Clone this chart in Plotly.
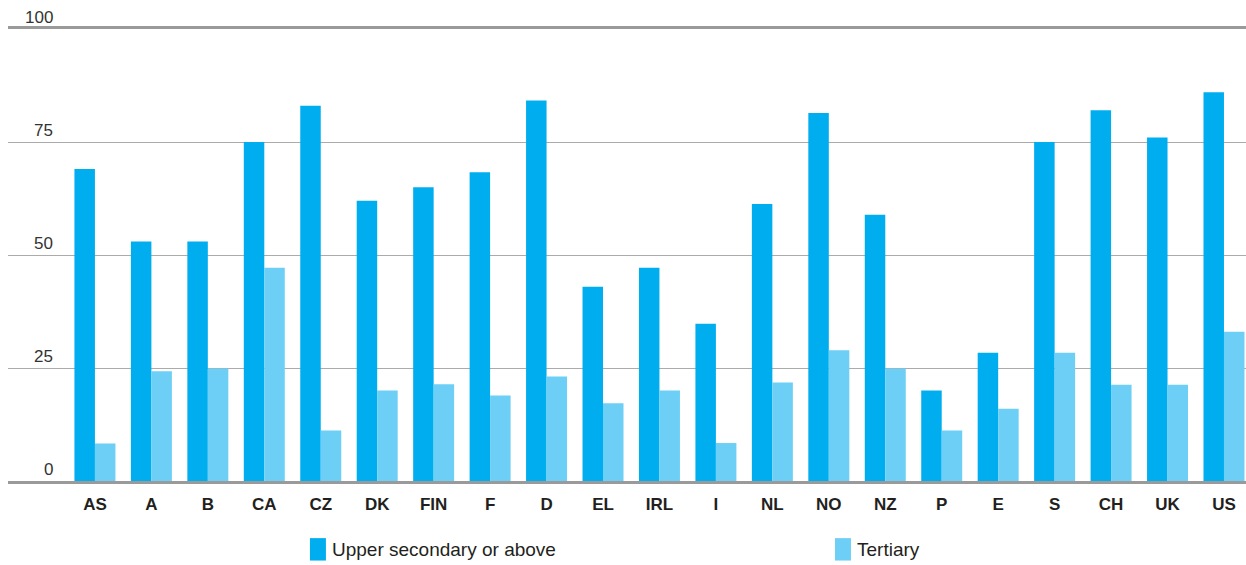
import plotly.graph_objects as go

# country codes along the x axis
countries = ["AS", "A", "B", "CA", "CZ", "DK", "FIN", "F", "D", "EL", "IRL",
             "I", "NL", "NO", "NZ", "P", "E", "S", "CH", "UK", "US"]

# share of population (%) by attainment level
upper_secondary = [69, 53, 53, 75, 83, 62, 65, 68.3, 84.2, 43, 47.2,
                   34.8, 61.3, 81.4, 58.9, 20, 28.4, 75, 82, 76, 86]
tertiary = [8.3, 24.3, 24.9, 47.2, 11.2, 20, 21.4, 18.9, 23.1, 17.2, 20,
            8.4, 21.8, 28.9, 24.9, 11.2, 16, 28.4, 21.3, 21.3, 33]

y_ticks = [0, 25, 50, 75, 100]

DARK = "#00AEEF"
LIGHT = "#6DCFF6"
FONT = "Liberation Sans, Arial, sans-serif"

fig = go.Figure()
fig.add_trace(go.Bar(x=countries, y=upper_secondary, name="Upper secondary or above",
                     marker=dict(color=DARK, line=dict(width=0))))
fig.add_trace(go.Bar(x=countries, y=tertiary, name="Tertiary",
                     marker=dict(color=LIGHT, line=dict(width=0))))

fig.update_layout(
    width=1246, height=565,
    margin=dict(l=8, r=0, t=29, b=84),
    barmode="group", bargap=0.274, bargroupgap=0,
    plot_bgcolor="white", paper_bgcolor="white",
    showlegend=False,
    font=dict(family=FONT, color="#231F20"),
)
fig.update_xaxes(
    range=[-1.54, 20.39], showgrid=False,
    showline=True, mirror=True, linecolor="#9a9a9a", linewidth=3,
    ticks="", ticklabelstandoff=6,
    tickfont=dict(family=FONT, size=17, color="#231F20", weight="bold"),
)
fig.update_yaxes(
    range=[0, 100], tickvals=y_ticks, showticklabels=False,
    showgrid=True, gridcolor="#ababab", gridwidth=1, zeroline=False,
)

# y tick labels sit just above their gridlines
for v in y_ticks:
    fig.add_annotation(x=0.038, xref="paper", y=v, yref="y", text=str(v),
                       showarrow=False, xanchor="right", yanchor="bottom",
                       font=dict(family=FONT, size=17, color="#333333"))

# legend drawn by hand: tall swatches with labels
legend_items = [("Upper secondary or above", DARK, 0.2439),
                ("Tertiary", LIGHT, 0.6680)]
for label, color, x0 in legend_items:
    fig.add_shape(type="rect", xref="paper", yref="paper",
                  x0=x0, x1=x0 + 0.0129, y0=-0.1264, y1=-0.1760,
                  fillcolor=color, line=dict(width=0))
    fig.add_annotation(x=x0 + 0.0165, xref="paper", y=-0.151, yref="paper",
                       text=label, showarrow=False, xanchor="left", yanchor="middle",
                       font=dict(family=FONT, size=19, color="#231F20"))

fig.write_html("out.html", config={"displayModeBar": False},
               post_script="document.body.style.margin='0';")
